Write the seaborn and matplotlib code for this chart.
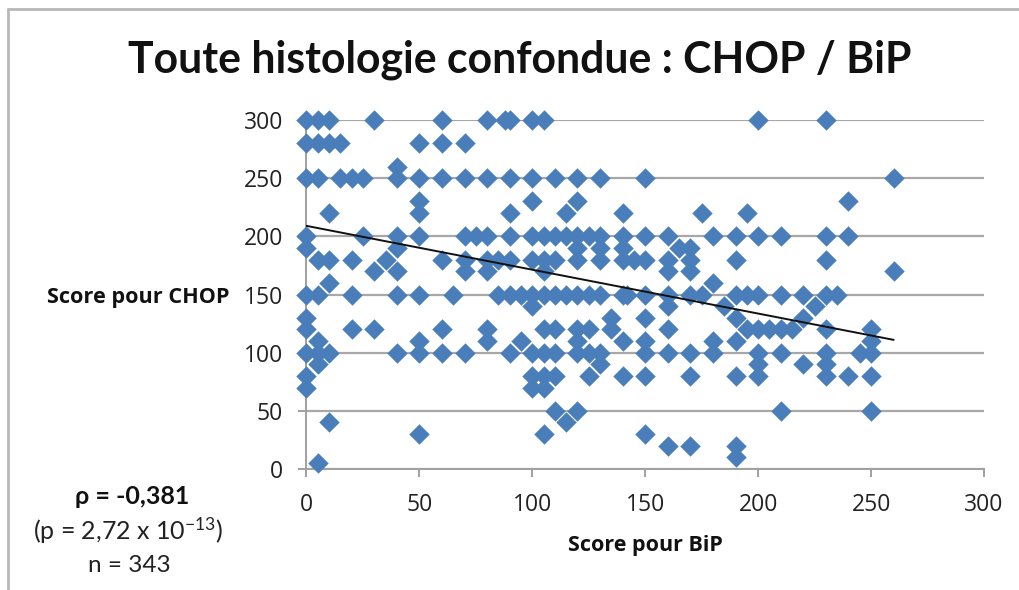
import numpy as np
import pandas as pd
import seaborn as sns
import matplotlib
matplotlib.use("Agg")
import matplotlib.pyplot as plt
from matplotlib.lines import Line2D

sns.set_style("white")
plt.rcParams['font.family'] = ['Lato', 'DejaVu Sans']
plt.rcParams['mathtext.fontset'] = 'custom'
plt.rcParams['mathtext.rm'] = 'Lato'
plt.rcParams['mathtext.default'] = 'regular'

# BiP scores for each CHOP score level
bip_300 = [0, 5, 10, 30, 60, 80, 88, 90, 100, 105, 200, 230]
bip_280 = [0, 5, 10, 15, 50, 60, 70]
bip_260 = [40]
bip_250 = [0, 5, 15, 20, 25, 40, 50, 60, 70, 80, 90, 100, 110, 120, 130, 150, 260]
bip_230 = [50, 100, 120, 240]
bip_220 = [10, 50, 90, 115, 140, 175, 195]
bip_200 = [0, 25, 40, 50, 70, 75, 80, 90, 100, 105, 110, 115, 120, 125, 130, 140, 150, 160, 180, 190, 200, 210, 230, 240]
bip_190 = [0, 40, 120, 130, 140, 165, 170]
bip_180 = [5, 10, 20, 35, 60, 70, 80, 85, 90, 100, 105, 110, 120, 130, 140, 145, 150, 160, 170, 190, 230]
bip_170 = [30, 40, 70, 80, 105, 160, 170, 260]
bip_160 = [10, 180]
bip_150 = [0, 5, 20, 40, 50, 65, 85, 90, 95, 100, 105, 110, 115, 120, 125, 130, 140, 142, 150, 160, 170, 175, 190, 195, 200, 210, 220, 230, 235]
bip_140 = [100, 160, 185, 225]
bip_130 = [0, 135, 150, 190, 220]
bip_120 = [0, 20, 30, 60, 80, 105, 110, 120, 125, 135, 160, 195, 200, 205, 210, 215, 230, 250]
bip_110 = [5, 50, 80, 95, 120, 140, 150, 180, 190, 250]
bip_100 = [0, 5, 10, 40, 50, 60, 70, 90, 100, 105, 110, 120, 125, 130, 150, 160, 170, 180, 200, 210, 230, 245, 250]
bip_90 = [5, 130, 200, 220, 230]
bip_80 = [0, 100, 105, 110, 125, 140, 150, 170, 190, 200, 230, 240, 250]
bip_70 = [0, 100, 105]
bip_50 = [110, 120, 210, 250]
bip_40 = [10, 115]
bip_30 = [50, 105, 150]
bip_20 = [160, 170, 190]
bip_10 = [190]
bip_5 = [5]

chop_levels = [300, 280, 260, 250, 230, 220, 200, 190, 180, 170, 160, 150, 140, 130,
               120, 110, 100, 90, 80, 70, 50, 40, 30, 20, 10, 5]
bip_rows = [bip_300, bip_280, bip_260, bip_250, bip_230, bip_220, bip_200, bip_190, bip_180,
            bip_170, bip_160, bip_150, bip_140, bip_130, bip_120, bip_110, bip_100, bip_90,
            bip_80, bip_70, bip_50, bip_40, bip_30, bip_20, bip_10, bip_5]

trend_bip = [0, 260]
trend_chop = [209, 111]
tick_values = [0, 50, 100, 150, 200, 250, 300]

df = pd.DataFrame({
    "bip": [b for row in bip_rows for b in row],
    "chop": [lv for lv, row in zip(chop_levels, bip_rows) for _ in row],
})

W, H = 1020, 590
fig = plt.figure(figsize=(W / 100, H / 100), dpi=100, facecolor="white")
ax = fig.add_axes([306.5 / W, 1 - 469 / H, (984 - 306.5) / W, (469 - 120) / H])

sns.scatterplot(data=df, x="bip", y="chop", marker="D", s=108, color="#4A7EBB",
                linewidth=0, ax=ax, clip_on=False, zorder=3)
sns.lineplot(x=trend_bip, y=trend_chop, color="#111111", linewidth=1.4, ax=ax, zorder=4)

ax.set_xlim(0, 300)
ax.set_ylim(0, 300)
ax.set_xticks(tick_values)
ax.set_yticks(tick_values)
ax.set_xlabel("")
ax.set_ylabel("")
ax.grid(axis="y", color="#a8a8a8", linewidth=1.6)
ax.grid(axis="x", visible=False)
ax.set_axisbelow(True)
for s in ["top", "right"]:
    ax.spines[s].set_visible(False)
for s in ["left", "bottom"]:
    ax.spines[s].set_color("#a0a0a0")
    ax.spines[s].set_linewidth(1.4)
ax.tick_params(axis="both", which="major", length=6, width=1.2, color="#909090",
               labelsize=16.5, labelcolor="#222222", left=True, bottom=True, labelfontfamily="Open Sans")
ax.tick_params(axis="y", pad=11)
ax.tick_params(axis="x", pad=11)

fig.text(520 / W, 1 - 60 / H, "Toute histologie confondue : CHOP / BiP", ha="center", va="center",
         fontsize=30.8, fontweight="bold", color="#111111")
fig.text(138 / W, 1 - 298 / H, "Score pour CHOP", ha="center", va="center",
         fontsize=15.6, fontweight="bold", color="#111111", family=["Open Sans", "DejaVu Sans"])
fig.text(645 / W, 1 - 545 / H, "Score pour BiP", ha="center", va="center",
         fontsize=15.5, fontweight="bold", color="#111111", family=["Open Sans", "DejaVu Sans"])
fig.text(132 / W, 1 - 497 / H, "ρ = -0,381", ha="center", va="center",
         fontsize=18, fontweight="bold", color="#111111")
fig.text(128 / W, 1 - 531 / H, "(p = 2,72 x 10$^{-13}$)", ha="center", va="center",
         fontsize=18, color="#222222")
fig.text(129 / W, 1 - 566 / H, "n = 343", ha="center", va="center",
         fontsize=17.5, color="#222222")

# Outer frame of the pasted chart
fig.add_artist(Line2D([8 / W, 8 / W], [0, 1 - 9 / H], color="#b8b8b8", linewidth=2))
fig.add_artist(Line2D([8 / W, 1], [1 - 9 / H, 1 - 9 / H], color="#b8b8b8", linewidth=2))

fig.savefig("out.png", dpi=100, facecolor="white")
